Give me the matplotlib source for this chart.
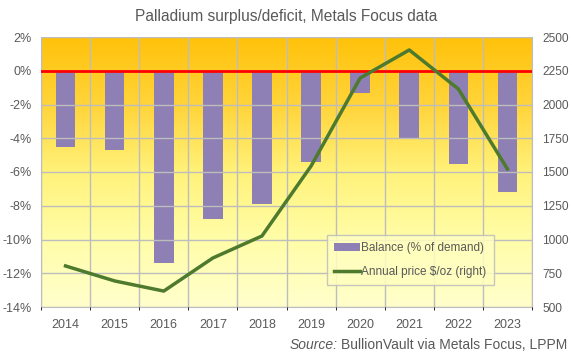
import numpy as np
import matplotlib
matplotlib.use("Agg")
import matplotlib.pyplot as plt
from matplotlib.colors import LinearSegmentedColormap

plt.rcParams["font.family"] = ["Liberation Sans", "DejaVu Sans"]

years = ["2014", "2015", "2016", "2017", "2018", "2019", "2020", "2021", "2022", "2023"]
balance = [-4.5, -4.7, -11.4, -8.8, -7.9, -5.4, -1.3, -4.0, -5.5, -7.2]
price = [804, 693, 618, 863, 1026, 1544, 2196, 2404, 2115, 1522]

grey = "#595959"
fig = plt.figure(figsize=(5.72, 3.55), dpi=100)
ax = fig.add_axes([41 / 572, 1 - 307 / 355, 491 / 572, 270 / 355])
ax2 = ax.twinx()

x = np.arange(len(years))
# background gradient, orange at top to pale yellow at bottom
cmap = LinearSegmentedColormap.from_list("bg", ["#FFC20A", "#FFD43A", "#FFF27A", "#FFFDA8", "#FFFFCC"])
grad = np.linspace(0, 1, 256).reshape(-1, 1)
ax.imshow(grad, cmap=cmap, aspect="auto", extent=[-0.5, 9.5, -14, 2], zorder=0, vmin=0, vmax=1)

ax.set_xlim(-0.5, 9.5)
ax.set_ylim(-14, 2)
ax.set_yticks(range(-14, 3, 2))
ax.set_yticklabels([f"{v}%" for v in range(-14, 3, 2)])
ax.set_xticks(x)
ax.set_xticklabels(years)
ax.set_xticks(np.arange(-0.5, 10, 1), minor=True)
ax.grid(True, which="minor", axis="x", color="#BDBDBD", lw=1, zorder=1)
ax.grid(True, which="major", axis="y", color="#BDBDBD", lw=1, zorder=1)
ax.set_axisbelow(False)

bars = ax.bar(x, balance, width=0.4, color="#8E80B4", zorder=2, label="Balance (% of demand)")
ax.axhline(0, color="#FF0000", lw=2, zorder=3)

line, = ax2.plot(x, price, color="#4E7A2E", lw=2.5, label="Annual price $/oz (right)")
ax2.set_ylim(500, 2500)
ax2.set_yticks(range(500, 2501, 250))

ax.tick_params(length=0, labelsize=9, colors=grey, pad=6.5)
ax.tick_params(axis="x", pad=9)
ax2.tick_params(length=0, labelsize=8.6, colors=grey, pad=7.5)
for a in (ax, ax2):
    for s in a.spines.values():
        s.set_visible(False)
for side in ("bottom", "left", "right"):
    ax.spines[side].set_visible(True)
    ax.spines[side].set_color("#BDBDBD")

leg = ax2.legend([bars, line], [bars.get_label(), line.get_label()],
                 loc="lower left", bbox_to_anchor=(0.5825, 0.0815), fontsize=8.5,
                 frameon=True, fancybox=False, labelcolor=grey, handlelength=2.2,
                 handletextpad=0.1, borderpad=0.6, labelspacing=1.0, borderaxespad=0)
leg.get_frame().set_edgecolor("#BDBDBD")
leg.get_frame().set_facecolor("#FFFFC0")
leg.get_frame().set_alpha(0.85)

fig.text(0.5 * (41 + 532) / 572, 1 - 17 / 355, "Palladium surplus/deficit, Metals Focus data",
         ha="center", va="center", fontsize=11.2, color=grey)
fig.text(567 / 572, 1 - 345 / 355, "BullionVault via Metals Focus, LPPM",
         ha="right", va="center", fontsize=10, color=grey)
fig.text(338 / 572, 1 - 345 / 355, "Source:",
         ha="right", va="center", fontsize=10, color=grey, style="italic")

fig.savefig("out.png", dpi=100)
